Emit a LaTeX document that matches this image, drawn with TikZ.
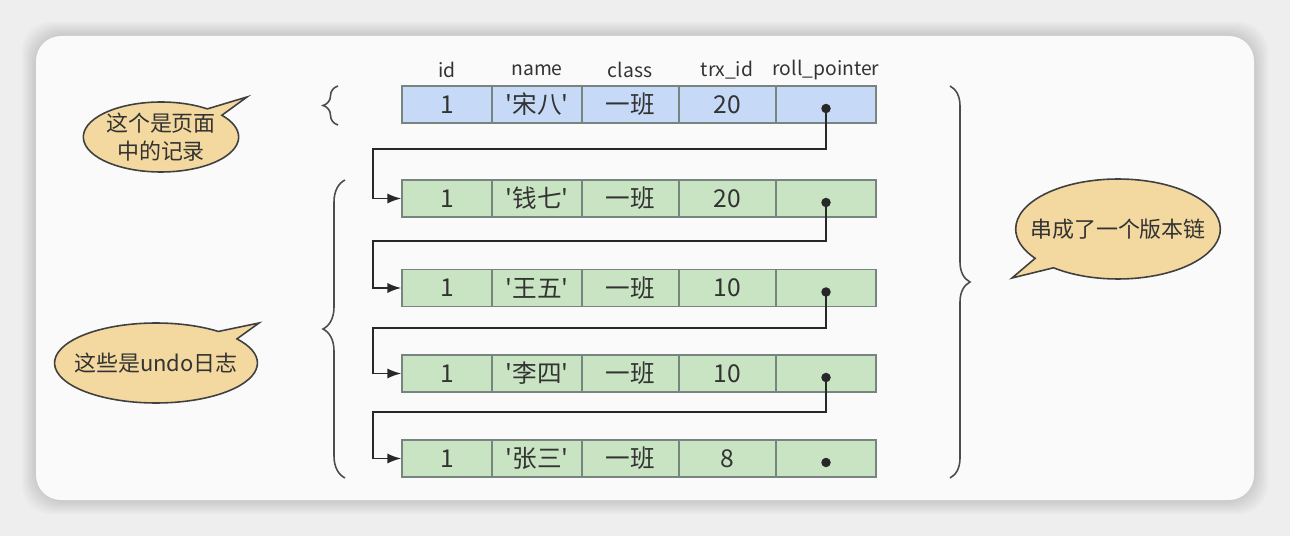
\documentclass[tikz,border=0pt]{standalone}
\usepackage{fontspec}
\setmainfont{Noto Sans CJK SC}
\usetikzlibrary{positioning,shapes.callouts,decorations.pathreplacing,arrows.meta}

\definecolor{pageblue}{RGB}{198,217,246}
\definecolor{undogreen}{RGB}{201,228,194}
\definecolor{cellline}{RGB}{120,132,128}
\definecolor{notetan}{RGB}{243,217,160}
\definecolor{linkgray}{RGB}{40,40,40}
\definecolor{cardwhite}{RGB}{250,250,250}
\definecolor{backgray}{RGB}{238,238,238}

\newcommand{\q}{\textquotesingle}

\tikzset{
  cell/.style={draw=cellline, line width=0.6pt, minimum height=7.4mm, inner sep=0pt,
    font=\fontsize{14}{16}\selectfont, text=black!80},
  head/.style={font=\fontsize{11}{13}\selectfont, text=black!80},
  link/.style={draw=linkgray, line width=1.1pt, -{Latex[length=2.8mm,width=2mm]}},
  ptr/.style={circle, fill=linkgray, inner sep=0pt, minimum size=1.9mm},
  note/.style={ellipse callout, draw=black!75, line width=0.9pt, fill=notetan,
    inner sep=0pt, align=center, text=black!80, font=\fontsize{12.5}{16}\selectfont},
  bracepath/.style={decorate, draw=black!70, line width=0.9pt}
}

\begin{document}
\begin{tikzpicture}[x=0.02cm, y=-0.02cm]
\useasboundingbox (0,0) rectangle (1290,536);
% background and card
\fill[backgray] (0,0) rectangle (1290,536);
\foreach \s in {14,12,...,2}
  \fill[black, opacity=0.02, rounded corners=6mm] (36-\s,36-\s) rectangle (1254+\s,500+\s);
\fill[cardwhite, rounded corners=5mm] (36,36) rectangle (1254,500);

% column headers
\node[head] (h1) at (447,70) {id};
\node[head] (h2) at (537,70) {name};
\node[head] (h3) at (630,70) {class};
\node[head] (h4) at (727,70) {trx\_id};
\node[head] (h5) at (826,70) {roll\_pointer};

% rows
\foreach \r/\y/\nm/\trx/\clr in {1/104.5/宋八/20/pageblue, 2/198.5/钱七/20/undogreen,
    3/288/王五/10/undogreen, 4/373.5/李四/10/undogreen, 5/458.5/张三/8/undogreen}{
  \node[cell, fill=\clr, minimum width=18mm] (r\r-1) at (447,\y) {1};
  \node[cell, fill=\clr, minimum width=18mm] (r\r-2) at (537,\y) {\q{}\nm\q{}};
  \node[cell, fill=\clr, minimum width=19.4mm] (r\r-3) at (630.5,\y) {一班};
  \node[cell, fill=\clr, minimum width=19.4mm] (r\r-4) at (727.5,\y) {\trx};
  \node[cell, fill=\clr, minimum width=20mm] (r\r-5) at (826,\y) {};
  \node[ptr] (p\r) at ([yshift=-0.8mm]r\r-5.center) {};
}

% roll pointer chain
\coordinate (k1) at (373,149);
\coordinate (k2) at (373,241);
\coordinate (k3) at (373,328);
\coordinate (k4) at (373,412);
\draw[link] (p1.center) |- (k1) |- (r2-1.west);
\draw[link] (p2.center) |- (k2) |- (r3-1.west);
\draw[link] (p3.center) |- (k3) |- (r4-1.west);
\draw[link] (p4.center) |- (k4) |- (r5-1.west);

% braces
\draw[bracepath, decoration={brace, amplitude=3mm}] (338,125) -- (338,86);
\draw[bracepath, decoration={brace, amplitude=4.4mm}] (345,478) -- (345,180);
\draw[bracepath, decoration={brace, amplitude=4mm}] (950,86) -- (950,478);

% callouts
\node[note, minimum height=1.4cm,
  callout absolute pointer={(247,97)}] (n1) at (161,137) {这个是页面\\中的记录};
\node[note, inner xsep=-2mm, minimum height=1.6cm,
  callout absolute pointer={(259,323)}] (n2) at (156,363) {这些是undo日志};
\node[note, inner xsep=-3.1mm, minimum height=2cm,
  callout absolute pointer={(1012,278)}] (n3) at (1118,229) {串成了一个版本链};
\end{tikzpicture}
\end{document}
